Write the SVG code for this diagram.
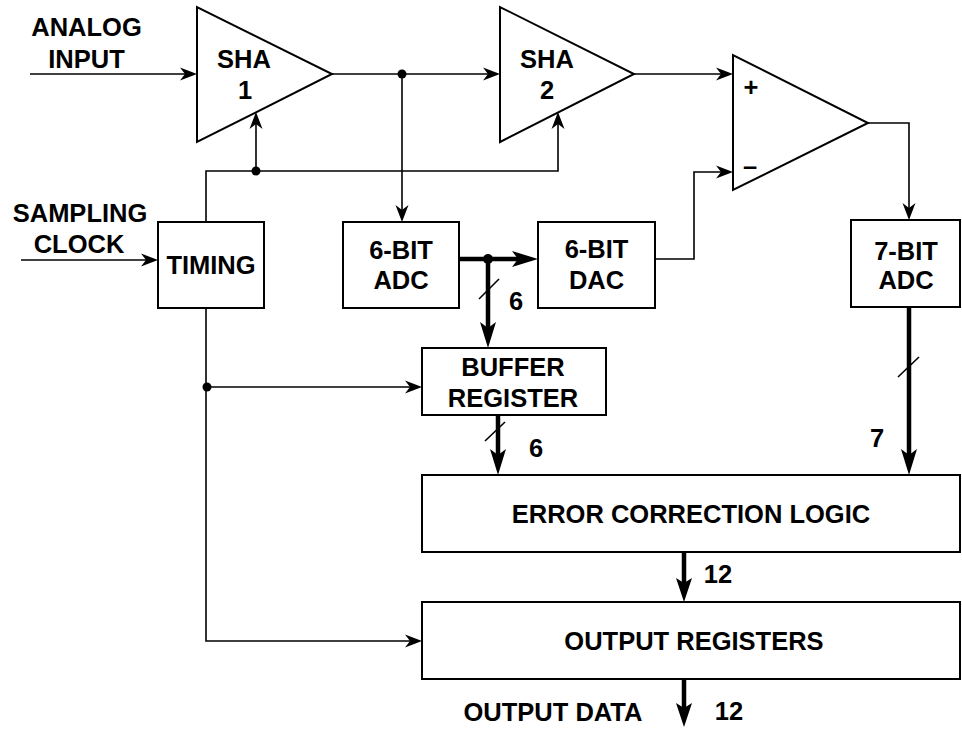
<svg xmlns="http://www.w3.org/2000/svg" width="962" height="729" viewBox="0 0 962 729">
<style>
  text { font-family: "Liberation Sans", Arial, sans-serif; font-weight: bold; font-size: 25.5px; fill: #000; text-anchor: middle; }
  .box { fill: #fff; stroke: #000; stroke-width: 2; }
  .thin { fill: none; stroke: #000; stroke-width: 1.6; }
  .thick { fill: none; stroke: #000; stroke-width: 4.5; }
  .head { fill: #000; stroke: none; }
  .dot { fill: #000; }
</style>
<rect width="962" height="729" fill="#fff"/>

<g id="connectors">
  <!-- analog input -->
  <line class="thin" x1="30" y1="74" x2="186" y2="74"/>
  <polygon class="head" points="197,74 180,67.5 185,74 180,80.5"/>
  <!-- SHA1 to SHA2 -->
  <line class="thin" x1="332" y1="74" x2="489" y2="74"/>
  <polygon class="head" points="500,74 483,67.5 488,74 483,80.5"/>
  <circle class="dot" cx="402" cy="74" r="4.5"/>
  <!-- tap to 6-bit ADC -->
  <line class="thin" x1="402" y1="74" x2="402" y2="211"/>
  <polygon class="head" points="402,222 395.5,205 402,210 408.5,205"/>
  <!-- SHA2 to subtractor + -->
  <line class="thin" x1="634" y1="74" x2="722" y2="74"/>
  <polygon class="head" points="733,74 716,67.5 721,74 716,80.5"/>
  <!-- timing clocks to SHAs -->
  <polyline class="thin" points="206,222 206,171 558,171 558,124"/>
  <polygon class="head" points="558,112 551.5,129 558,124 564.5,129"/>
  <line class="thin" x1="256" y1="171" x2="256" y2="124"/>
  <polygon class="head" points="256,112 249.5,129 256,124 262.5,129"/>
  <circle class="dot" cx="256" cy="171" r="4.5"/>
  <!-- sampling clock -->
  <line class="thin" x1="21" y1="260" x2="147" y2="260"/>
  <polygon class="head" points="158,260 141,253.5 146,260 141,266.5"/>
  <!-- DAC to subtractor - -->
  <polyline class="thin" points="655,259 694,259 694,172 722,172"/>
  <polygon class="head" points="733,172 716,165.5 721,172 716,178.5"/>
  <!-- subtractor out to 7-bit ADC -->
  <polyline class="thin" points="868,123 909,123 909,209"/>
  <polygon class="head" points="909,220 902.5,203 909,208 915.5,203"/>
  <!-- ADC to DAC (thick) -->
  <line class="thick" x1="459" y1="259" x2="519" y2="259"/>
  <polygon class="head" points="538,259 512,251 518,259 512,267"/>
  <circle class="dot" cx="488" cy="259" r="5"/>
  <!-- to buffer register (thick) -->
  <line class="thick" x1="488" y1="259" x2="488" y2="329"/>
  <polygon class="head" points="488,348 480,322 488,328 496,322"/>
  <line class="thin" x1="479" y1="299" x2="499" y2="279"/>
  <text x="516" y="310">6</text>
  <!-- timing down to output registers and buffer -->
  <polyline class="thin" points="206,308 206,641 411,641"/>
  <polygon class="head" points="422,641 405,634.5 410,641 405,647.5"/>
  <line class="thin" x1="206" y1="387" x2="411" y2="387"/>
  <polygon class="head" points="422,387 405,380.5 410,387 405,393.5"/>
  <circle class="dot" cx="207" cy="387" r="4.5"/>
  <!-- buffer to error correction -->
  <line class="thick" x1="498" y1="415" x2="498" y2="456"/>
  <polygon class="head" points="498,475 490,449 498,455 506,449"/>
  <line class="thin" x1="485" y1="441" x2="505" y2="422"/>
  <text x="536" y="457">6</text>
  <!-- 7-bit ADC to error correction -->
  <line class="thick" x1="909" y1="307" x2="909" y2="456"/>
  <polygon class="head" points="909,475 901,449 909,455 917,449"/>
  <line class="thin" x1="898" y1="377" x2="919" y2="357"/>
  <text x="877" y="447">7</text>
  <!-- error correction to output registers -->
  <line class="thick" x1="684" y1="552" x2="684" y2="584"/>
  <polygon class="head" points="684,602 676,578 684,583 692,578"/>
  <text x="718" y="583">12</text>
  <!-- output data -->
  <line class="thick" x1="684" y1="679" x2="684" y2="709"/>
  <polygon class="head" points="684,727 676,703 684,708 692,703"/>
  <text x="729" y="720">12</text>
  <text x="553" y="721">OUTPUT DATA</text>
  <!-- input labels -->
  <text x="86.5" y="36">ANALOG</text>
  <text x="86.5" y="68">INPUT</text>
  <text x="80" y="222">SAMPLING</text>
  <text x="79" y="253">CLOCK</text>
</g>

<g id="sha1">
  <polygon class="box" points="197,7 197,142 332,74"/>
  <text x="244" y="68">SHA</text>
  <text x="245" y="99">1</text>
</g>
<g id="sha2">
  <polygon class="box" points="500,7 500,142 634,74"/>
  <text x="547" y="68">SHA</text>
  <text x="547" y="99">2</text>
</g>
<g id="subtractor">
  <polygon class="box" points="733,55 733,190 868,123"/>
  <text x="751" y="96">+</text>
  <text x="750" y="175">–</text>
</g>
<g id="timing">
  <rect class="box" x="158" y="222" width="106" height="86"/>
  <text x="211" y="274">TIMING</text>
</g>
<g id="adc6">
  <rect class="box" x="343" y="222" width="116" height="86"/>
  <text x="401" y="259">6-BIT</text>
  <text x="401" y="289">ADC</text>
</g>
<g id="dac6">
  <rect class="box" x="538" y="222" width="117" height="86"/>
  <text x="596.5" y="258">6-BIT</text>
  <text x="596.5" y="289">DAC</text>
</g>
<g id="adc7">
  <rect class="box" x="851" y="220" width="109" height="87"/>
  <text x="906" y="260">7-BIT</text>
  <text x="906" y="289">ADC</text>
</g>
<g id="buffer">
  <rect class="box" x="422" y="348" width="184" height="67"/>
  <text x="513" y="376">BUFFER</text>
  <text x="513" y="407">REGISTER</text>
</g>
<g id="error">
  <rect class="box" x="422" y="475" width="538" height="77"/>
  <text x="691" y="523">ERROR CORRECTION LOGIC</text>
</g>
<g id="outreg">
  <rect class="box" x="422" y="602" width="538" height="77"/>
  <text x="694" y="650">OUTPUT REGISTERS</text>
</g>
</svg>
